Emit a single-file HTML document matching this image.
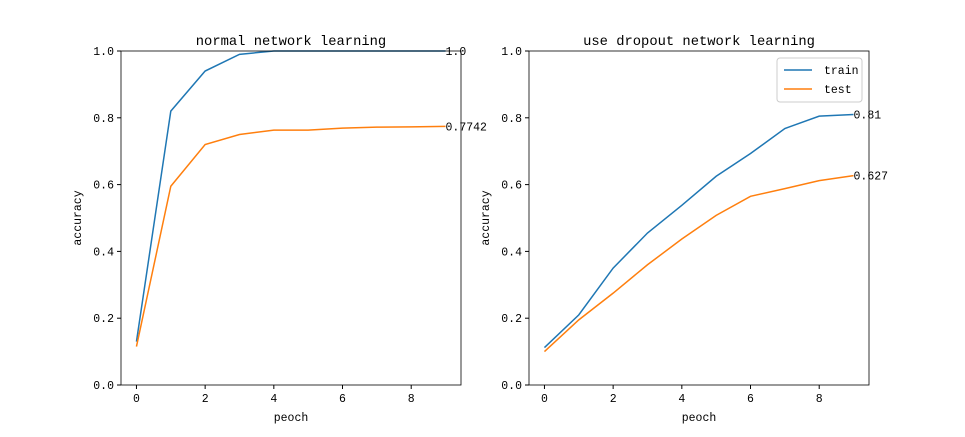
<!DOCTYPE html>
<html><head><meta charset="utf-8"><style>
body{margin:0;background:#fff;}
svg text{font-family:"Liberation Mono","DejaVu Sans Mono",monospace;fill:#000;}
</style></head><body>
<svg id="c" width="965" height="432" xmlns="http://www.w3.org/2000/svg"></svg>
<script>
const epochs=[0,1,2,3,4,5,6,7,8,9];
const leftTrain=[0.13,0.82,0.94,0.99,1.0,1.0,1.0,1.0,1.0,1.0];
const leftTest=[0.115,0.595,0.72,0.75,0.763,0.763,0.769,0.772,0.773,0.7742];
const rightTrain=[0.112,0.21,0.35,0.455,0.538,0.625,0.693,0.768,0.805,0.81];
const rightTest=[0.1,0.195,0.275,0.36,0.437,0.508,0.565,0.588,0.612,0.627];
const xTicks=[0,2,4,6,8];
const yTicks=[0,0.2,0.4,0.6,0.8,1.0];
const leftLabels=["1.0","0.7742"];
const rightLabels=["0.81","0.627"];
const svg=document.getElementById('c');
const NS='http://www.w3.org/2000/svg';
function mk(t,a,p){const e=document.createElementNS(NS,t);for(const k in a)e.setAttribute(k,a[k]);(p||svg).appendChild(e);return e;}
function panel(x0,title,name,train,test,labels,legend){
  const g=mk('g',{});
  
  
  const W=340,T=51,B=385;
  const sx=v=>x0+(v+0.45)/9.9*W;
  const sy=v=>B-v*(B-T);
  xTicks.forEach(t=>{mk('line',{x1:sx(t),x2:sx(t),y1:B,y2:B+4,stroke:'#000'},g);
    const tx=mk('text',{x:sx(t),y:B+17,'font-size':11.5,'text-anchor':'middle'},g);tx.textContent=t;
    });
  yTicks.forEach(t=>{mk('line',{x1:x0-4,x2:x0,y1:sy(t),y2:sy(t),stroke:'#000'},g);
    const tx=mk('text',{x:x0-7,y:sy(t)+4,'font-size':11.5,'text-anchor':'end'},g);tx.textContent=t.toFixed(1);
    });
  [[train,'#1f77b4','train-line'],[test,'#ff7f0e','test-line']].forEach(([d,c,n])=>{
    const p=mk('polyline',{points:d.map((v,i)=>sx(epochs[i])+','+sy(v)).join(' '),fill:'none',stroke:c,'stroke-width':1.5},g);
    
  });
  [[train,labels[0]],[test,labels[1]]].forEach(([d,l])=>{
    const i=d.length-1;const tx=mk('text',{x:sx(epochs[i]),y:sy(d[i])+4,'font-size':11.5},g);tx.textContent=l;
    
  });
  mk('rect',{x:x0,y:T,width:W,height:B-T,fill:'none',stroke:'#000','stroke-width':0.8},g);
  const tt=mk('text',{x:x0+W/2,y:T-6,'font-size':13.8,'text-anchor':'middle'},g);tt.textContent=title;
  
  const xl=mk('text',{x:x0+W/2,y:B+36,'font-size':11.5,'text-anchor':'middle'},g);xl.textContent='peoch';
  
  const yl=mk('text',{x:0,y:0,'font-size':11.5,'text-anchor':'middle',transform:`translate(${x0-40},${(T+B)/2}) rotate(-90)`},g);yl.textContent='accuracy';
  
  if(legend){
    const lg=mk('g',{},g);
    
    mk('rect',{x:x0+W-92,y:T+7,width:85,height:44,fill:'#fff',stroke:'#ccc',rx:3},lg);
    [['train','#1f77b4'],['test','#ff7f0e']].forEach(([n,c],i)=>{
      const y=T+19+i*19;
      mk('line',{x1:x0+W-85,x2:x0+W-57,y1:y,y2:y,stroke:c,'stroke-width':1.5},lg);
      const t=mk('text',{x:x0+W-45,y:y+4,'font-size':11.5},lg);t.textContent=n;
      
    });
  }
}
panel(121,'normal network learning','left-panel',leftTrain,leftTest,leftLabels,false);
panel(529,'use dropout network learning','right-panel',rightTrain,rightTest,rightLabels,true);
</script>
</body></html>
